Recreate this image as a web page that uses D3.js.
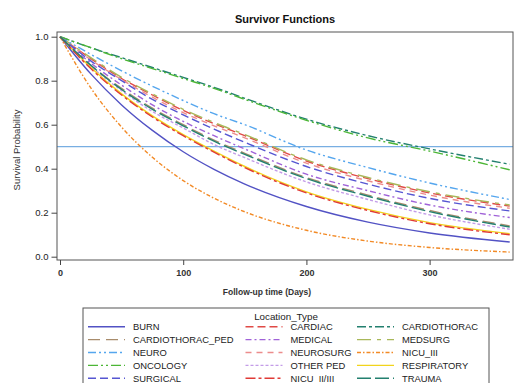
<!DOCTYPE html>
<html>
<head>
<meta charset="utf-8">
<script src="https://cdn.jsdelivr.net/npm/d3@7"></script>
<style>
  html, body { margin: 0; padding: 0; background: #fff; }
  svg { display: block; font-family: "Liberation Sans", Arial, sans-serif; }
</style>
</head>
<body>
<div id="root"></div>
<script>
// Data (survival probability at each follow-up day)
const days = [0, 25, 50, 75, 100, 125, 150, 200, 250, 300, 365];

const burn            = [1, .831, .69, .574, .477, .397, .33, .228, .157, .108, .067];
const cardiac         = [1, .90, .81, .735, .665, .605, .55, .435, .355, .29, .23];
const cardiothorac    = [1, .95, .905, .86, .815, .77, .72, .625, .55, .49, .42];
const cardiothoracPed = [1, .87, .765, .675, .60, .53, .47, .36, .28, .21, .14];
const medical         = [1, .88, .78, .69, .615, .55, .49, .375, .30, .235, .178];
const medsurg         = [1, .905, .815, .74, .67, .61, .555, .44, .36, .295, .235];
const neuro           = [1, .92, .845, .775, .71, .65, .60, .485, .405, .335, .26];
const neurosurg       = [1, .895, .805, .725, .655, .595, .54, .425, .345, .28, .22];
const nicu3           = [1, .767, .589, .452, .346, .266, .204, .12, .071, .042, .021];
const oncology        = [1, .95, .90, .855, .81, .765, .715, .62, .54, .48, .395];
const otherPed        = [1, .865, .755, .66, .585, .51, .45, .34, .26, .19, .125];
const respiratory     = [1, .86, .74, .64, .555, .48, .41, .295, .215, .155, .105];
const surgical        = [1, .89, .80, .715, .645, .58, .52, .41, .33, .265, .208];
const nicu23          = [1, .855, .735, .635, .55, .475, .405, .29, .21, .15, .10];
const trauma          = [1, .87, .76, .67, .595, .525, .465, .355, .275, .205, .135];

const locationTypes = ["BURN", "CARDIAC", "CARDIOTHORAC", "CARDIOTHORAC_PED", "MEDICAL",
  "MEDSURG", "NEURO", "NEUROSURG", "NICU_III", "ONCOLOGY", "OTHER PED", "RESPIRATORY",
  "SURGICAL", "NICU_II/III", "TRAUMA"];
const seriesValues = [burn, cardiac, cardiothorac, cardiothoracPed, medical, medsurg, neuro,
  neurosurg, nicu3, oncology, otherPed, respiratory, surgical, nicu23, trauma];

const yTicks = [0, 0.2, 0.4, 0.6, 0.8, 1.0];
const xTicks = [0, 100, 200, 300];
const referenceLevel = 0.5;

// line styles per group
const colors = ["#5252c4", "#e04a46", "#23806f", "#a88c6c", "#a062d8", "#a9b85a", "#55a6ee",
  "#ec8c8c", "#f28a26", "#4cb636", "#c39ce8", "#f2d41c", "#5656d2", "#e03a36", "#23806f"];
const dashes = ["none", "8,4", "9,3,3,3", "12,6", "6,3,2,3", "14,6,4,6", "8,3,2,3,2,3",
  "6,5", "4,2,1.5,2", "10,3,2,3,2,3", "3,2", "none", "8,4", "10,3,3,3", "14,4"];

const series = locationTypes.map((name, i) => ({
  name,
  points: days.map((d, j) => ({ day: d, s: seriesValues[i][j] }))
}));

const W = 514, H = 383;
const frame = { left: 57, top: 32, right: 513, bottom: 260 };

const svg = d3.select("#root").append("svg")
  .attr("width", W)
  .attr("height", H);

const x = d3.scaleLinear().domain([0, 368]).range([60, 513.4]);
const y = d3.scaleLinear().domain([0, 1]).range([256.7, 36.7]);

// title
svg.append("text")
  .attr("x", (frame.left + frame.right) / 2)
  .attr("y", 23)
  .attr("text-anchor", "middle")
  .attr("font-size", 11)
  .attr("font-weight", "bold")
  .attr("fill", "#111")
  .text("Survivor Functions");

// clip
svg.append("clipPath").attr("id", "plot")
  .append("rect")
  .attr("x", frame.left).attr("y", frame.top)
  .attr("width", frame.right - frame.left).attr("height", frame.bottom - frame.top);

const plot = svg.append("g").attr("clip-path", "url(#plot)");

// reference line at 0.5
plot.append("line")
  .attr("x1", frame.left).attr("x2", frame.right)
  .attr("y1", y(referenceLevel)).attr("y2", y(referenceLevel))
  .attr("stroke", "#78aee2")
  .attr("stroke-width", 1.2);

const line = d3.line()
  .x(d => x(d.day))
  .y(d => y(d.s))
  .curve(d3.curveMonotoneX);

plot.selectAll("path.km")
  .data(series)
  .enter().append("path")
  .attr("class", "km")
  .attr("d", d => line(d.points))
  .attr("fill", "none")
  .attr("stroke", (d, i) => colors[i])
  .attr("stroke-width", 1.4)
  .attr("stroke-dasharray", (d, i) => dashes[i]);

// frame
svg.append("rect")
  .attr("x", frame.left).attr("y", frame.top)
  .attr("width", frame.right - frame.left).attr("height", frame.bottom - frame.top)
  .attr("fill", "none")
  .attr("stroke", "#555")
  .attr("stroke-width", 1);

// y axis
const yAxis = svg.append("g")
  .attr("transform", `translate(${frame.left},0)`)
  .call(d3.axisLeft(y).tickValues(yTicks).tickFormat(d3.format(".1f")).tickSize(5.5).tickPadding(3));
yAxis.select(".domain").remove();
yAxis.selectAll("line").attr("stroke", "#444");
yAxis.selectAll("text").attr("font-size", 9.5).attr("fill", "#222")
  .attr("font-family", "Liberation Sans, Arial, sans-serif");

// x axis
const xAxis = svg.append("g")
  .attr("transform", `translate(0,${frame.bottom})`)
  .call(d3.axisBottom(x).tickValues(xTicks).tickFormat(d3.format("d")).tickSize(5).tickPadding(5));
xAxis.select(".domain").remove();
xAxis.selectAll("line").attr("stroke", "#444");
xAxis.selectAll("text").attr("font-size", 9).attr("font-weight", "bold").attr("fill", "#333")
  .attr("font-family", "Liberation Sans, Arial, sans-serif");

// axis titles
svg.append("text")
  .attr("x", 267)
  .attr("y", 295)
  .attr("text-anchor", "middle")
  .attr("font-size", 8.5)
  .attr("font-weight", "bold")
  .attr("fill", "#333")
  .text("Follow-up time (Days)");

svg.append("text")
  .attr("transform", "translate(20,150) rotate(-90)")
  .attr("text-anchor", "middle")
  .attr("font-size", 9.5)
  .attr("fill", "#333")
  .text("Survival Probability");

// legend
const legendBox = { left: 83, top: 308, right: 489 };
svg.append("rect")
  .attr("x", legendBox.left).attr("y", legendBox.top)
  .attr("width", legendBox.right - legendBox.left).attr("height", 90)
  .attr("fill", "none")
  .attr("stroke", "#555");

svg.append("text")
  .attr("x", 286).attr("y", 320)
  .attr("text-anchor", "middle")
  .attr("font-size", 9.8)
  .attr("fill", "#222")
  .text("Location_Type");

const colX = [88, 245.5, 357];
const rowY = 326.7, rowStep = 12.9;

const item = svg.append("g").selectAll("g")
  .data(series)
  .enter().append("g")
  .attr("transform", (d, i) => `translate(${colX[i % 3]},${rowY + Math.floor(i / 3) * rowStep})`);

item.append("line")
  .attr("x1", 0).attr("x2", 37)
  .attr("stroke", (d, i) => colors[i])
  .attr("stroke-width", 1.4)
  .attr("stroke-dasharray", (d, i) => dashes[i]);

item.append("text")
  .attr("x", 45)
  .attr("dy", "0.35em")
  .attr("font-size", 9.4)
  .attr("fill", "#222")
  .text(d => d.name);
</script>
</body>
</html>
